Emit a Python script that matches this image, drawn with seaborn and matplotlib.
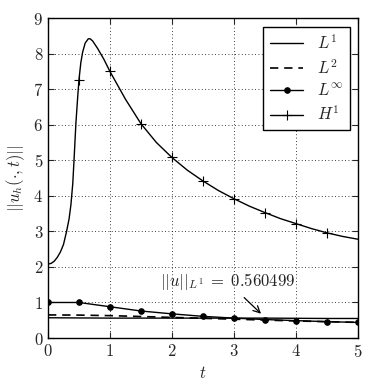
import numpy as np
import pandas as pd
import matplotlib
matplotlib.use("Agg")
import matplotlib.pyplot as plt
import seaborn as sns

# H1 norm, sampled densely where it rises fast
t_fine = [0.0, 0.05, 0.1, 0.15, 0.2, 0.25, 0.3, 0.34, 0.37, 0.4, 0.42, 0.45,
          0.48, 0.5, 0.53, 0.56, 0.6, 0.65, 0.68, 0.72, 0.8, 0.9, 1.0, 1.25,
          1.5, 1.75, 2.0, 2.25, 2.5, 2.75, 3.0, 3.25, 3.5, 3.75, 4.0, 4.25,
          4.5, 4.75, 5.0]
h1 = [2.08, 2.10, 2.16, 2.27, 2.42, 2.63, 3.00, 3.35, 3.75, 4.35, 5.00, 6.03,
      6.80, 7.27, 7.75, 8.05, 8.30, 8.42, 8.42, 8.36, 8.15, 7.85, 7.50, 6.72,
      6.03, 5.50, 5.08, 4.72, 4.42, 4.15, 3.92, 3.71, 3.53, 3.36, 3.22, 3.08,
      2.96, 2.86, 2.78]
h1_marks = [0.5, 1.0, 1.5, 2.0, 2.5, 3.0, 3.5, 4.0, 4.5]

# L1, L2, Linf on the coarse grid
t_coarse = [0.0, 0.5, 1.0, 1.5, 2.0, 2.5, 3.0, 3.5, 4.0, 4.5, 5.0]
l1 = [0.57, 0.565, 0.56, 0.56, 0.56, 0.56, 0.56, 0.56, 0.555, 0.55, 0.55]
l2 = [0.65, 0.645, 0.63, 0.605, 0.58, 0.555, 0.53, 0.505, 0.48, 0.46, 0.44]
linf = [1.0, 1.0, 0.88, 0.76, 0.68, 0.61, 0.56, 0.52, 0.49, 0.46, 0.44]

l1_norm = 0.560499

sns.set_style("ticks", {"xtick.direction": "in", "ytick.direction": "in",
                        "axes.grid": True, "grid.color": "k",
                        "axes.edgecolor": "k"})
plt.rcParams["font.family"] = "serif"
plt.rcParams["font.serif"] = ["cmr10", "DejaVu Serif"]
plt.rcParams["mathtext.fontset"] = "cm"
plt.rcParams["axes.formatter.use_mathtext"] = True
plt.rcParams["axes.unicode_minus"] = False

fig = plt.figure(figsize=(3.72, 3.91), dpi=100)
ax = fig.add_axes([0.129, 0.1355, 0.833, 0.818])
ax.grid(True, color="k", lw=0.6, linestyle=(0, (1, 3)))

df_c = pd.DataFrame({"t": t_coarse, "l1": l1, "l2": l2, "linf": linf})
df_f = pd.DataFrame({"t": t_fine, "h1": h1})
h1_idx = list(np.where(np.isin(df_f["t"], h1_marks))[0])

sns.lineplot(data=df_c, x="t", y="l1", ax=ax, color="k", lw=1.0,
             label="$L^1$")
sns.lineplot(data=df_c, x="t", y="l2", ax=ax, color="k", lw=1.2,
             dashes=False, linestyle=(0, (5, 3.5)), label="$L^2$")
sns.lineplot(data=df_c, x="t", y="linf", ax=ax, color="k", lw=1.0,
             marker="o", markersize=4, markeredgecolor="k", label=r"$L^\infty$")
sns.lineplot(data=df_f, x="t", y="h1", ax=ax, color="k", lw=1.0,
             marker="+", markersize=7, markeredgewidth=0.8,
             markeredgecolor="k", markevery=h1_idx, label="$H^1$")

ax.annotate(r"$||u||_{L^1}\;=\;%g$" % l1_norm, xy=(3.47, 0.63),
            xytext=(2.9, 1.58), ha="center", va="center", fontsize=12,
            arrowprops=dict(arrowstyle="->", color="k", lw=0.9))

ax.set_xlim(0, 5)
ax.set_ylim(0, 9)
ax.set_xticks(range(0, 6))
ax.set_yticks(range(0, 10))
ax.tick_params(top=True, right=True, labelsize=12, length=4, width=0.8)
ax.set_xlabel("$t$", fontsize=12)
ax.set_ylabel(r"$||u_h(\cdot,t)||$", fontsize=12)
for s in ax.spines.values():
    s.set_linewidth(1.0)

leg = ax.legend(loc="upper right", fontsize=12, fancybox=False,
                framealpha=1, edgecolor="k", handlelength=2.0,
                labelspacing=0.35, borderaxespad=0.5)
leg.get_frame().set_linewidth(1.0)

fig.savefig("out.png", dpi=100)
